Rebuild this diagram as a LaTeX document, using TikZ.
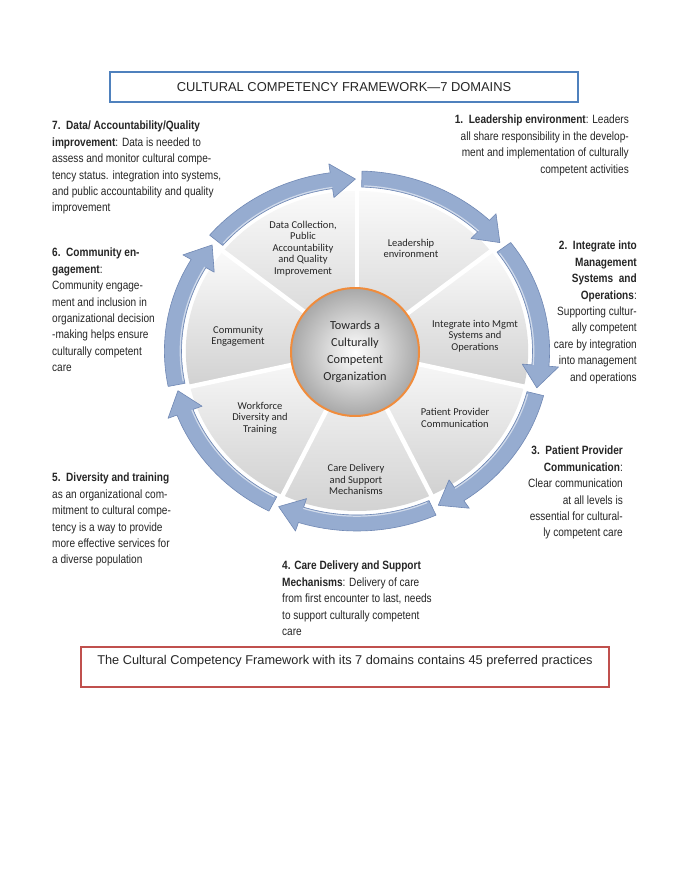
\documentclass[tikz,border=0pt]{standalone}
\usepackage{fontspec}
\newfontfamily\narrowsans{Liberation Sans}[FakeStretch=0.84]
\newfontfamily\arialf{Liberation Sans}
\newfontfamily\calib{Carlito}
\definecolor{arrowblue}{RGB}{150,172,208}
\definecolor{arrowedge}{RGB}{112,136,180}
\definecolor{ringorange}{RGB}{240,140,60}
\definecolor{titleblue}{RGB}{79,129,189}
\definecolor{notered}{RGB}{192,80,77}
\begin{document}
\begin{tikzpicture}[x=1pt,y=-1pt,
  sidetext/.style={font=\narrowsans\fontsize{12}{16.4}\selectfont, inner sep=0pt, text=black!85},
  seglabel/.style={font=\calib\fontsize{10.5}{11.4}\selectfont, align=center, text=black!85, inner sep=0pt},
  arrowshape/.style={fill=arrowblue, draw=arrowedge, line width=0.6pt, line join=round},
  segshade/.style={top color=gray!4, bottom color=gray!36},
  divider/.style={white, line width=4.5pt}
]
\fill[white] (0,0) rectangle (680,880);
\useasboundingbox (0,0) rectangle (680,880);

% title
\node[draw=titleblue, line width=1.8pt, minimum width=468pt, minimum height=30pt, inner sep=0pt,
      font=\arialf\fontsize{12.9}{14}\selectfont, text=black!85] (title) at (344,87)
      {CULTURAL COMPETENCY FRAMEWORK—7 DOMAINS};

% wheel
\begin{scope}[shift={(357,351)}, xscale=1.07]
  \foreach \k in {0,...,6} {
    \pgfmathsetmacro\a{-90+\k*360/7}
    \pgfmathsetmacro\b{\a+360/7}
    \shade[segshade] (0,0) -- (\a:160) arc[start angle=\a, end angle=\b, radius=160] -- cycle;
  }
  \foreach \k in {0,...,6} {
    \pgfmathsetmacro\a{-90+\k*360/7}
    \draw[divider] (0,0) -- (\a:163);
  }
  \foreach \k in {0,...,6} {
    \pgfmathsetmacro\a{-90+\k*360/7}
    \pgfmathsetmacro\s{\a+1.5}
    \pgfmathsetmacro\e{\a+360/7-0.5}
    \pgfmathsetmacro\h{\e-7.5}
    \path[arrowshape] (\s:180) arc[start angle=\s, end angle=\h, radius=180]
      -- (\h:189) -- (\e:172) -- (\h:155) -- (\h:164)
      arc[start angle=\h, end angle=\s, radius=164] -- cycle;
    \draw[white!55!arrowblue, line width=1.2pt] (\s+0.8:165.2) arc[start angle=\s+0.8, end angle=\h, radius=165.2];
  }
\end{scope}

% centre
\node[circle, minimum size=128pt, inner sep=0pt, inner color=white, outer color=gray!68,
      draw=ringorange, line width=2pt] (ctr) at (355,352) {};
\node[font=\calib\fontsize{12.3}{17}\selectfont, align=center, text=black!85, inner sep=0pt] (ctrtext) at (355,352)
  {Towards a\\Culturally\\Competent\\Organization};

% segment labels
\node[seglabel] (s7) at (303,248.5) {Data Collection,\\Public\\Accountability\\and Quality\\Improvement};
\node[seglabel] (s1) at (411,248.5) {Leadership\\environment};
\node[seglabel] (s2) at (475,336) {Integrate into Mgmt\\Systems and\\Operations};
\node[seglabel] (s3) at (455,418) {Patient Provider\\Communication};
\node[seglabel] (s4) at (356,479.5) {Care Delivery\\and Support\\Mechanisms};
\node[seglabel] (s5) at (260,418) {Workforce\\Diversity and\\Training};
\node[seglabel] (s6) at (238,336) {Community\\Engagement};

% side texts
\node[sidetext, anchor=north west, align=left] (d7) at (52,121)
  {\textbf{7.\ \ Data/ Accountability/Quality}\\
   \textbf{improvement}: Data is needed to\\
   assess and monitor cultural compe-\\
   tency status. integration into systems,\\
   and public accountability and quality\\
   improvement};
\node[sidetext, anchor=north east, align=right] (d1) at (629,115)
  {\textbf{1.\ \ Leadership environment}: Leaders\\
   all share responsibility in the develop-\\
   ment and implementation of culturally\\
   competent activities};
\node[sidetext, anchor=north east, align=right] (d2) at (637,241)
  {\textbf{2.\ \ Integrate into}\\
   \textbf{Management}\\
   \textbf{Systems\ \ and}\\
   \textbf{Operations}:\\
   Supporting cultur-\\
   ally competent\\
   care by integration\\
   into management\\
   and operations};
\node[sidetext, anchor=north west, align=left] (d6) at (52,248)
  {\textbf{6.\ \ Community en-}\\
   \textbf{gagement}:\\
   Community engage-\\
   ment and inclusion in\\
   organizational decision\\
   -making helps ensure\\
   culturally competent\\
   care};
\node[sidetext, anchor=north east, align=right] (d3) at (623,446)
  {\textbf{3.\ \ Patient Provider}\\
   \textbf{Communication}:\\
   Clear communication\\
   at all levels is\\
   essential for cultural-\\
   ly competent care};
\node[sidetext, anchor=north west, align=left] (d5) at (52,473)
  {\textbf{5.\ \ Diversity and training}\\
   as an organizational com-\\
   mitment to cultural compe-\\
   tency is a way to provide\\
   more effective services for\\
   a diverse population};
\node[sidetext, anchor=north west, align=left] (d4) at (282,561)
  {\textbf{4. Care Delivery and Support}\\
   \textbf{Mechanisms}: Delivery of care\\
   from first encounter to last, needs\\
   to support culturally competent\\
   care};

% bottom note
\node[draw=notered, line width=1.8pt, minimum width=528pt, minimum height=40pt, inner sep=0pt] (note) at (345,667) {};
\node[font=\arialf\fontsize{12.75}{14}\selectfont, text=black!85, inner sep=0pt] (notetext) at (345,661)
  {The Cultural Competency Framework with its 7 domains contains 45 preferred practices};
\end{tikzpicture}
\end{document}
